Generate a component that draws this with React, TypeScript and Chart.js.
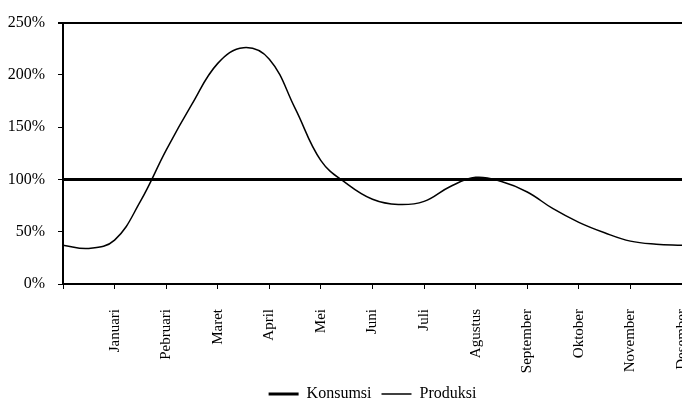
import React, { useEffect, useRef } from "react";
import { Chart, registerables } from "chart.js";

Chart.register(...registerables);

// Month labels on the x-axis (tick k = month k)
const monthLabels = [
  "Januari", "Pebruari", "Maret", "April", "Mei", "Juni",
  "Juli", "Agustus", "September", "Oktober", "November", "Desember",
];

// Produksi curve, read every half month (month units, 0..12)
const produksiMonths = [
  0, 0.5, 1, 1.5, 2, 2.5, 3, 3.5, 4, 4.5, 5, 5.5, 6,
  6.5, 7, 7.5, 8, 8.5, 9, 9.5, 10, 10.5, 11, 11.5, 12,
];
const produksiValues = [
  37, 34, 42, 79, 128, 172, 211, 226, 215, 168, 118, 96, 81,
  76, 79, 93, 102, 98, 88, 72, 59, 49, 41, 38, 37,
];

// Konsumsi (flat 100%)
const konsumsiMonths = [0, 12];
const konsumsiValues = [100, 100];

// Y ticks
const yMin = 0;
const yMax = 250;
const yStep = 50;

const FONT = "'Liberation Serif', 'Times New Roman', serif";

export default function App() {
  const canvasRef = useRef<HTMLCanvasElement | null>(null);

  useEffect(() => {
    const canvas = canvasRef.current;
    if (!canvas) return;
    const chart = new Chart(canvas, {
      type: "line",
      data: {
        datasets: [
          {
            label: "Konsumsi",
            data: konsumsiMonths.map((m, i) => ({ x: m, y: konsumsiValues[i] })),
            borderColor: "#000",
            backgroundColor: "#000",
            borderWidth: 3,
            pointRadius: 0,
            tension: 0,
          },
          {
            label: "Produksi",
            data: produksiMonths.map((m, i) => ({ x: m, y: produksiValues[i] })),
            borderColor: "#000",
            backgroundColor: "#000",
            borderWidth: 1.5,
            pointRadius: 0,
            tension: 0.4,
          },
        ],
      },
      options: {
        responsive: false,
        animation: false,
        layout: { padding: { top: 20, right: 37, left: 0, bottom: 0 } },
        plugins: {
          tooltip: { enabled: false },
          legend: {
            position: "bottom",
            fullSize: false,
            labels: {
              color: "#000",
              font: { family: FONT, size: 16 },
              usePointStyle: true,
              pointStyle: "line",
              pointStyleWidth: 30,
              padding: 10,
            },
          },
        },
        scales: {
          x: {
            type: "linear",
            min: 0,
            max: monthLabels.length,
            afterFit: (scale: any) => {
              scale.height = 92;
            },
            border: { display: true, color: "#000", width: 2 },
            grid: {
              drawOnChartArea: false,
              drawTicks: true,
              tickLength: 5,
              tickColor: "#000",
              tickWidth: 1,
            },
            ticks: {
              stepSize: 1,
              autoSkip: false,
              minRotation: 90,
              maxRotation: 90,
              padding: 20,
              color: "#000",
              font: { family: FONT, size: 15 },
              callback: (v: any) => {
                const n = Number(v);
                return Number.isInteger(n) && n >= 1 && n <= monthLabels.length
                  ? monthLabels[n - 1]
                  : "";
              },
            },
          },
          y: {
            min: yMin,
            max: yMax,
            afterFit: (scale: any) => {
              scale.width = 63;
            },
            border: { display: true, color: "#000", width: 2 },
            grid: {
              drawTicks: true,
              tickLength: 5,
              tickColor: "#000",
              color: (ctx: any) =>
                ctx.tick && ctx.tick.value === yMax ? "#000" : "rgba(0,0,0,0)",
              lineWidth: (ctx: any) => (ctx.tick && ctx.tick.value === yMax ? 2 : 1),
            },
            ticks: {
              stepSize: yStep,
              padding: 13,
              color: "#000",
              font: { family: FONT, size: 16 },
              callback: (v: any) => `${v}%`,
            },
          },
        },
      },
    });
    return () => chart.destroy();
  }, []);

  return (
    <div
      style={{
        position: "fixed",
        left: 0,
        top: 0,
        width: 682,
        height: 401,
        overflow: "hidden",
        background: "#fff",
      }}
    >
      <canvas ref={canvasRef} width={720} height={412} style={{ display: "block" }} />
    </div>
  );
}
